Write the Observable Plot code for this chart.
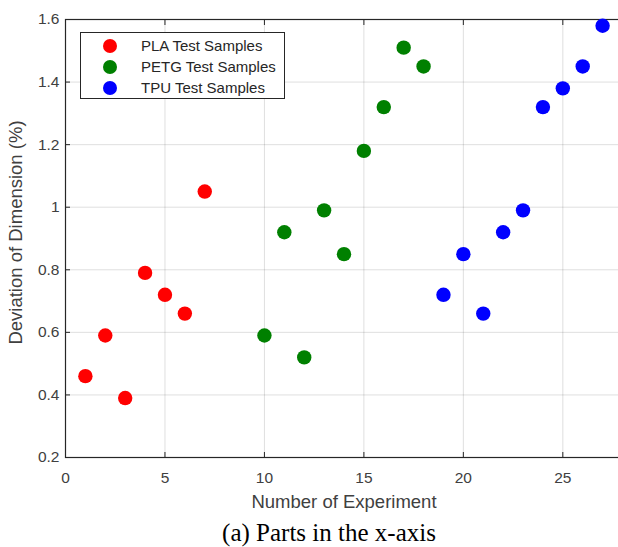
<!DOCTYPE html>
<html><head><meta charset="utf-8">
<script src="https://cdn.jsdelivr.net/npm/d3@7"></script>
<script src="https://cdn.jsdelivr.net/npm/@observablehq/plot@0.6"></script>
<style>
html,body{margin:0;padding:0;background:#fff;overflow:hidden;width:618px;height:547px}
#wrap{position:relative;width:618px;height:547px;overflow:hidden}
#chart svg{max-width:none !important;display:block}
#legend{position:absolute;left:80px;top:32px;width:205px;height:67px;border:1px solid #262626;background:#fff;box-sizing:border-box;font-family:"Liberation Sans",Arial,sans-serif;font-size:15px;color:#262626}
#legend .row{position:absolute;left:0;height:20px;line-height:20px;white-space:nowrap}
#legend .dot{position:absolute;left:22px;top:3px;width:14px;height:14px;border-radius:50%}
#legend .lab{position:absolute;left:60px;top:0}
#caption{position:absolute;left:20px;top:519px;width:618px;text-align:center;font-family:"Liberation Serif","Times New Roman",serif;font-size:25px;line-height:28px;color:#000;white-space:nowrap}
</style></head>
<body>
<div id="wrap"><div id="chart"></div><div id="legend"></div><div id="caption"></div></div>
<script>
const seriesNames = ["PLA Test Samples", "PETG Test Samples", "TPU Test Samples"];
const seriesColors = ["#ff0000", "#008000", "#0000ff"];
const plaX = [1, 2, 3, 4, 5, 6, 7];
const plaY = [0.46, 0.59, 0.39, 0.79, 0.72, 0.66, 1.05];
const petgX = [10, 11, 12, 13, 14, 15, 16, 17, 18];
const petgY = [0.59, 0.92, 0.52, 0.99, 0.85, 1.18, 1.32, 1.51, 1.45];
const tpuX = [19, 20, 21, 22, 23, 24, 25, 26, 27];
const tpuY = [0.72, 0.85, 0.66, 0.92, 0.99, 1.32, 1.38, 1.45, 1.58];
const xTicks = [0, 5, 10, 15, 20, 25];
const yTicks = [0.2, 0.4, 0.6, 0.8, 1, 1.2, 1.4, 1.6];
const xLabel = "Number of Experiment";
const yLabel = "Deviation of Dimension (%)";
const captionText = "(a) Parts in the x-axis";

const groups = [[plaX, plaY], [petgX, petgY], [tpuX, tpuY]];
const data = groups.flatMap(([xs, ys], i) => xs.map((x, j) => ({x, y: ys[j], s: seriesNames[i]})));
const yMid = (yTicks[0] + yTicks[yTicks.length - 1]) / 2;

const font = '"Liberation Sans", Arial, sans-serif';
const grey = "#404040";
const chart = Plot.plot({
  width: 622, height: 514,
  marginLeft: 65, marginRight: 0, marginTop: 19, marginBottom: 57,
  style: {fontFamily: font, fontSize: "15.5px", color: grey, background: "white", maxWidth: "none"},
  x: {domain: [0, 28], ticks: xTicks},
  y: {domain: [0.2, 1.6], ticks: yTicks},
  color: {domain: seriesNames, range: seriesColors},
  marks: [
    Plot.gridX(xTicks, {stroke: "#262626", strokeOpacity: 0.15}),
    Plot.gridY(yTicks, {stroke: "#262626", strokeOpacity: 0.15}),
    Plot.axisX({ticks: xTicks, tickSize: -5, tickPadding: 19, stroke: "#262626", label: null, fill: grey}),
    Plot.axisX({anchor: "top", ticks: xTicks, tickSize: -5, tickFormat: () => "", label: null, stroke: "#262626"}),
    Plot.axisY({ticks: yTicks, tickSize: -5, tickPadding: 11, tickFormat: d => String(+d.toFixed(1)), stroke: "#262626", label: null, fill: grey}),
    Plot.axisY({anchor: "right", ticks: yTicks, tickSize: -5, tickFormat: () => "", label: null, stroke: "#262626"}),
    Plot.frame({stroke: "#262626", strokeWidth: 1.2}),
    Plot.text([xLabel], {frameAnchor: "bottom", dy: 45, lineAnchor: "middle", fontSize: 18.5, fill: grey}),
    Plot.text([yLabel], {x: xTicks[0], y: yMid, dx: -49, dy: -6, rotate: -90, lineAnchor: "middle", fontSize: 18.5, fill: grey}),
    Plot.dot(data, {x: "x", y: "y", fill: "s", r: 7.2, stroke: null})
  ]
});
document.getElementById("chart").appendChild(chart);

const leg = document.getElementById("legend");
seriesNames.forEach((n, i) => {
  const row = document.createElement("div");
  row.className = "row";
  row.style.top = (3 + i * 21) + "px";
  row.innerHTML = `<span class="dot" style="background:${seriesColors[i]}"></span><span class="lab"></span>`;
  row.querySelector(".lab").textContent = n;
  leg.appendChild(row);
});
document.getElementById("caption").textContent = captionText;
</script>
</body></html>
